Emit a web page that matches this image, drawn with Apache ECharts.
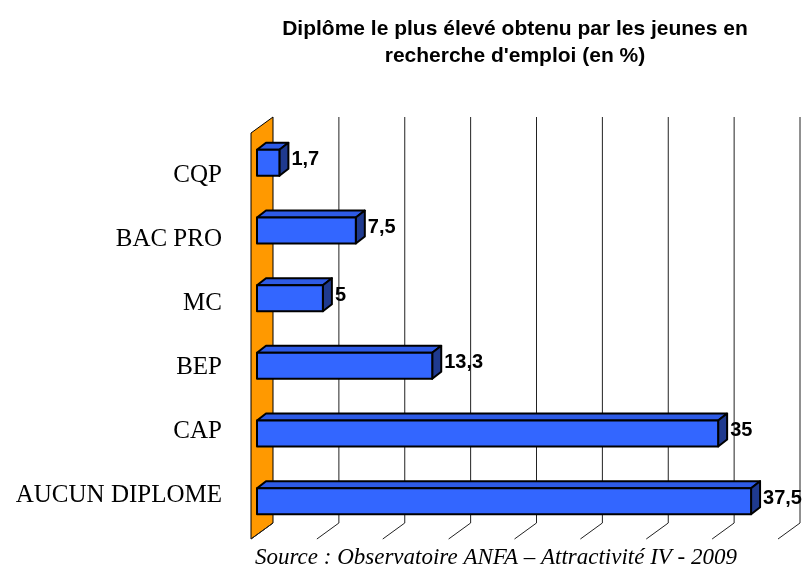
<!DOCTYPE html>
<html>
<head>
<meta charset="utf-8">
<script src="https://cdn.jsdelivr.net/npm/echarts@6/dist/echarts.min.js"></script>
<style>
  html, body { margin: 0; padding: 0; background: #fff; }
  #main { width: 807px; height: 567px; }
</style>
</head>
<body>
<div id="main"></div>
<script>
// Data
var categories = ['CQP', 'BAC PRO', 'MC', 'BEP', 'CAP', 'AUCUN DIPLOME'];
var values = [1.7, 7.5, 5, 13.3, 35, 37.5];
var gridTicks = [0, 5, 10, 15, 20, 25, 30, 35, 40];

// 3D look
var DEPTH_X = 22, DEPTH_Y = -16;     // wall / floor depth
var BAR_OX = 6, BAR_OY = -4;         // bar position inside the depth
var BAR_DX = 9, BAR_DY = -7;         // bar own depth
var BAR_H = 13;                      // half height of bar front

function fmt(v) {
    return String(v).replace('.', ',');
}

function renderWall(params, api) {
    var cs = params.coordSys;
    var x0 = api.coord([0, 0])[0];
    var top = cs.y, bottom = cs.y + cs.height;
    return {
        type: 'polygon',
        shape: { points: [[x0, bottom], [x0, top], [x0 + DEPTH_X, top + DEPTH_Y], [x0 + DEPTH_X, bottom + DEPTH_Y]] },
        style: { fill: '#FF9900', stroke: '#000', lineWidth: 1 }
    };
}

function renderGrid(params, api) {
    var cs = params.coordSys;
    var x = api.coord([api.value(0), 0])[0];
    var top = cs.y, bottom = cs.y + cs.height;
    var children = [{
        type: 'line',
        shape: { x1: x, y1: bottom, x2: x + DEPTH_X, y2: bottom + DEPTH_Y },
        style: { stroke: '#222', lineWidth: 1 }
    }];
    if (api.value(0) > 0) {
        children.push({
            type: 'line',
            shape: { x1: x + DEPTH_X, y1: top + DEPTH_Y, x2: x + DEPTH_X, y2: bottom + DEPTH_Y },
            style: { stroke: '#222', lineWidth: 1 }
        });
    }
    return { type: 'group', children: children };
}

function renderBar(params, api) {
    var val = api.value(0);
    var cat = api.value(1);
    var p0 = api.coord([0, cat]);
    var p1 = api.coord([val, cat]);
    var x0 = p0[0] + BAR_OX, x1 = p1[0] + BAR_OX, yc = p0[1] + BAR_OY;
    var yt = yc - BAR_H, yb = yc + BAR_H;
    var edge = { stroke: '#000', lineWidth: 2, lineJoin: 'round' };
    return {
        type: 'group',
        children: [
            {
                type: 'polygon',
                shape: { points: [[x0, yt], [x1, yt], [x1 + BAR_DX, yt + BAR_DY], [x0 + BAR_DX, yt + BAR_DY]] },
                style: Object.assign({ fill: '#2E5BE6' }, edge)
            },
            {
                type: 'polygon',
                shape: { points: [[x1, yt], [x1 + BAR_DX, yt + BAR_DY], [x1 + BAR_DX, yb + BAR_DY], [x1, yb]] },
                style: Object.assign({ fill: '#1F3A8F' }, edge)
            },
            {
                type: 'rect',
                shape: { x: x0, y: yt, width: x1 - x0, height: yb - yt },
                style: Object.assign({ fill: '#3366FF' }, edge)
            },
            {
                type: 'text',
                x: x1 + BAR_DX + 3,
                y: yc - 3,
                style: {
                    text: fmt(val),
                    fill: '#000',
                    font: 'bold 20px "Liberation Sans", Arial, sans-serif',
                    align: 'left',
                    verticalAlign: 'middle'
                }
            }
        ]
    };
}

var chart = echarts.init(document.getElementById('main'));
var option = {
    animation: false,
    backgroundColor: '#fff',
    grid: [
        { left: 251, right: 29, top: 133, bottom: 28 },
        { left: 222, width: 10, top: 144, bottom: 40 }
    ],
    xAxis: [
        { type: 'value', gridIndex: 0, min: 0, max: 40, interval: 5, show: false },
        { type: 'value', gridIndex: 1, show: false }
    ],
    yAxis: [
        { type: 'category', gridIndex: 0, inverse: true, data: categories, show: false },
        {
            type: 'category', gridIndex: 1, inverse: true, data: categories,
            axisLine: { show: false }, axisTick: { show: false }, splitLine: { show: false },
            axisLabel: { margin: 0, color: '#000', fontFamily: '"Liberation Serif", "Times New Roman", serif', fontSize: 25 }
        }
    ],
    graphic: [
        {
            type: 'text', x: 515, y: 43,
            style: {
                text: "Diplôme le plus élevé obtenu par les jeunes en\nrecherche d'emploi (en %)",
                font: 'bold 21px "Liberation Sans", Arial, sans-serif',
                fill: '#000', align: 'center', verticalAlign: 'middle', lineHeight: 27
            }
        },
        {
            type: 'text', x: 496, y: 558,
            style: {
                text: 'Source : Observatoire ANFA – Attractivité IV - 2009',
                font: 'italic 23px "Liberation Serif", "Times New Roman", serif',
                fill: '#000', align: 'center', verticalAlign: 'middle'
            }
        }
    ],
    series: [
        {
            type: 'custom', name: 'wall', xAxisIndex: 0, yAxisIndex: 0, z: 1,
            renderItem: renderWall, data: [[0, 0]], silent: true
        },
        {
            type: 'custom', name: 'grid', xAxisIndex: 0, yAxisIndex: 0, z: 1,
            renderItem: renderGrid, data: gridTicks.map(function (t) { return [t, 0]; }), silent: true
        },
        {
            type: 'custom', name: 'Diplôme', xAxisIndex: 0, yAxisIndex: 0, z: 3,
            renderItem: renderBar,
            encode: { x: 0, y: 1 },
            data: values.map(function (v, i) { return [v, i]; })
        }
    ]
};
chart.setOption(option);
</script>
</body>
</html>
